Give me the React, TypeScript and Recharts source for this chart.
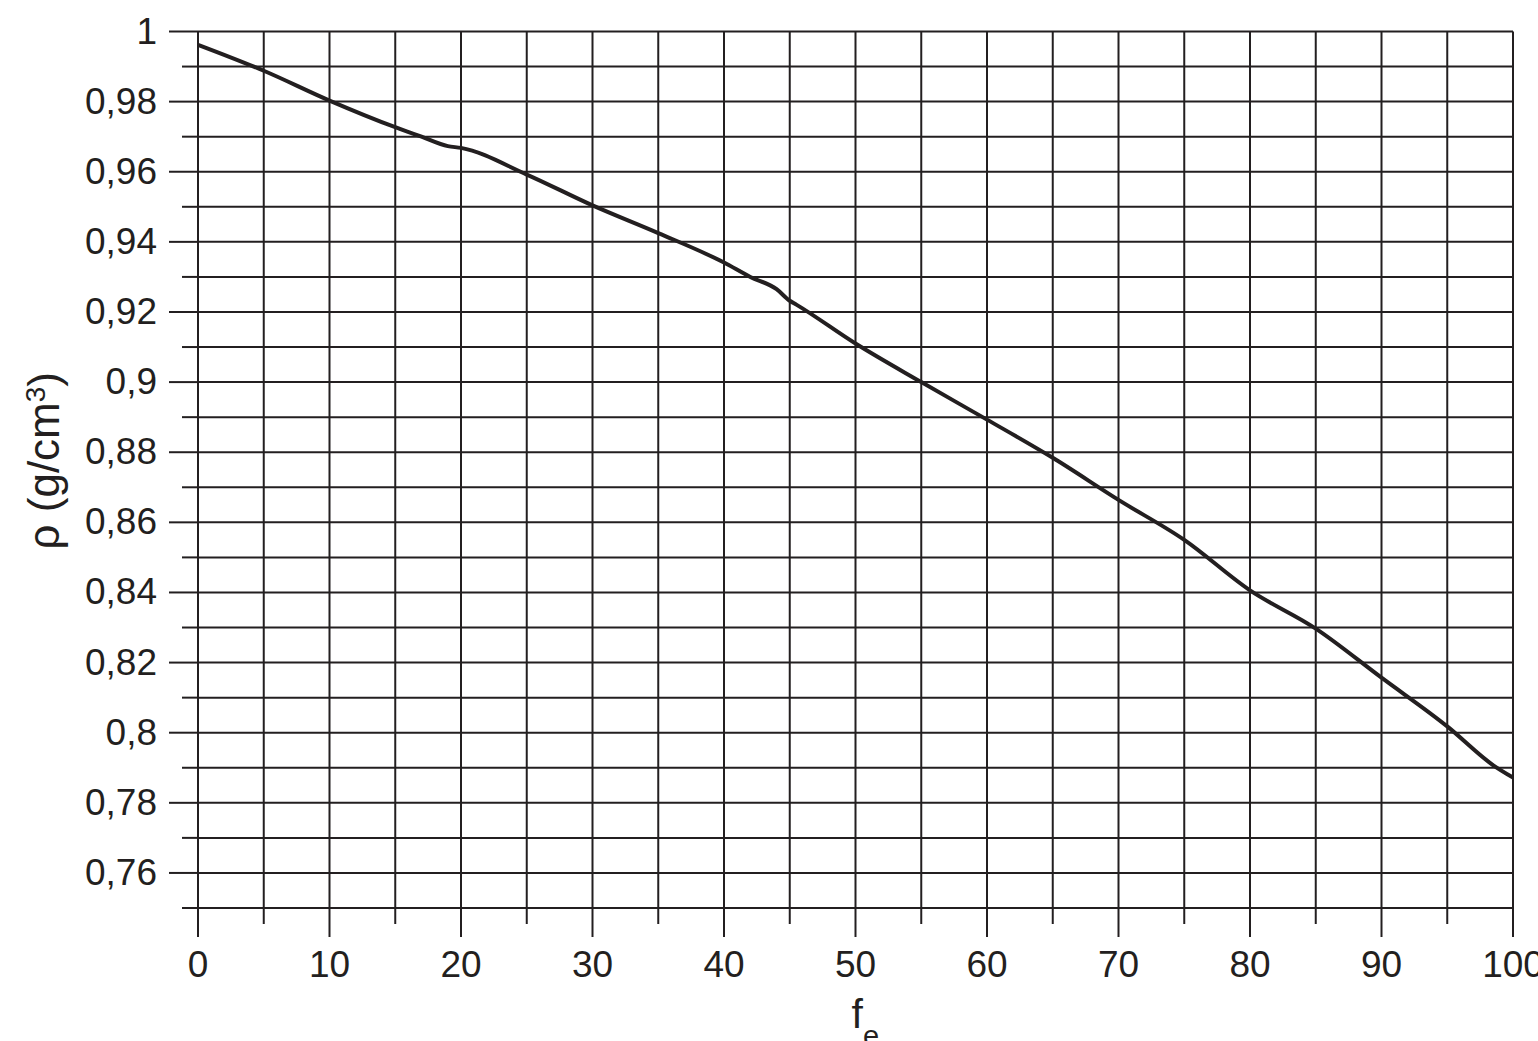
import React from "react";
import {
  LineChart,
  Line,
  XAxis,
  YAxis,
  CartesianGrid,
} from "recharts";

// fraction f_e (%)
const fe = [0, 5, 10, 15, 17, 19, 20, 25, 30, 35, 40, 42, 44, 45, 45.5, 50, 55, 60, 65, 70, 75, 80, 85, 90, 95, 98.5, 100];
// density rho (g/cm3)
const rho = [
  0.9962, 0.9888, 0.9803, 0.9727, 0.97, 0.9673, 0.9668, 0.9592, 0.9504, 0.9425, 0.9341, 0.93, 0.9265, 0.9232,
  0.9221, 0.911, 0.9, 0.8893, 0.8784, 0.8664, 0.855, 0.8406, 0.8297, 0.8157, 0.8018, 0.7907, 0.7872,
];

const xTicks = [0, 5, 10, 15, 20, 25, 30, 35, 40, 45, 50, 55, 60, 65, 70, 75, 80, 85, 90, 95, 100];
const xLabels = [0, 10, 20, 30, 40, 50, 60, 70, 80, 90, 100];

const yTicks = [
  0.75, 0.76, 0.77, 0.78, 0.79, 0.8, 0.81, 0.82, 0.83, 0.84, 0.85, 0.86, 0.87, 0.88, 0.89, 0.9, 0.91, 0.92,
  0.93, 0.94, 0.95, 0.96, 0.97, 0.98, 0.99, 1,
];
const yLabels = [0.76, 0.78, 0.8, 0.82, 0.84, 0.86, 0.88, 0.9, 0.92, 0.94, 0.96, 0.98, 1];

const data = fe.map((f, i) => ({ f, rho: rho[i] }));

const INK = "#231f20";
const FONT = "'Liberation Sans', Arial, Helvetica, sans-serif";

function XTick(props: any) {
  const { x, y, payload } = props;
  const major = xLabels.includes(payload.value);
  return (
    <g>
      <line x1={x} x2={x} y1={y} y2={y + (major ? 29 : 16)} stroke={INK} strokeWidth={2} />
      {major && (
        <text x={x} y={y + 69} textAnchor="middle" fill={INK} fontSize={37} fontFamily={FONT}>
          {payload.value}
        </text>
      )}
    </g>
  );
}

function YTick(props: any) {
  const { x, y, payload } = props;
  const major = yLabels.includes(payload.value);
  return (
    <g>
      <line x1={x - (major ? 29 : 16)} x2={x} y1={y} y2={y} stroke={INK} strokeWidth={2} />
      {major && (
        <text x={x - 41} y={y + 12} textAnchor="end" fill={INK} fontSize={37} fontFamily={FONT}>
          {String(payload.value).replace(".", ",")}
        </text>
      )}
    </g>
  );
}

export default function App() {
  return (
    <div style={{ position: "absolute", left: 0, top: 0, width: 1538, height: 1041, overflow: "hidden", background: "#fff" }}>
      <LineChart width={1538} height={1041} data={data} margin={{ top: 31.5, right: 25, left: 0, bottom: 0 }}>
        <CartesianGrid stroke={INK} strokeWidth={2} />
        <XAxis
          dataKey="f"
          type="number"
          domain={[0, 100]}
          ticks={xTicks}
          interval={0}
          height={133}
          tickSize={0}
          tickMargin={0}
          axisLine={false}
          tickLine={false}
          tick={<XTick />}
          label={{
            content: (p: any) => {
              const vb = p.viewBox;
              return (
                <text x={vb.x + vb.width / 2 - 4} y={1028} fill={INK} fontFamily={FONT}>
                  <tspan fontSize={41}>f</tspan>
                  <tspan fontSize={29} dy={18}>e</tspan>
                </text>
              );
            },
          }}
        />
        <YAxis
          type="number"
          domain={[0.75, 1]}
          ticks={yTicks}
          interval={0}
          width={198}
          tickSize={0}
          tickMargin={0}
          axisLine={false}
          tickLine={false}
          tick={<YTick />}
          label={{
            content: (p: any) => {
              const vb = p.viewBox;
              const cy = vb.y + vb.height / 2 - 9;
              return (
                <text
                  x={59}
                  y={cy}
                  transform={`rotate(-90 59 ${cy})`}
                  textAnchor="middle"
                  fill={INK}
                  fontSize={44}
                  fontFamily={FONT}
                >
                  <tspan>ρ (g/cm</tspan>
                  <tspan fontSize={28} dy={-14}>3</tspan>
                  <tspan dy={14}>)</tspan>
                </text>
              );
            },
          }}
        />
        <Line
          type="monotone"
          dataKey="rho"
          stroke={INK}
          strokeWidth={4}
          dot={false}
          isAnimationActive={false}
        />
      </LineChart>
    </div>
  );
}
